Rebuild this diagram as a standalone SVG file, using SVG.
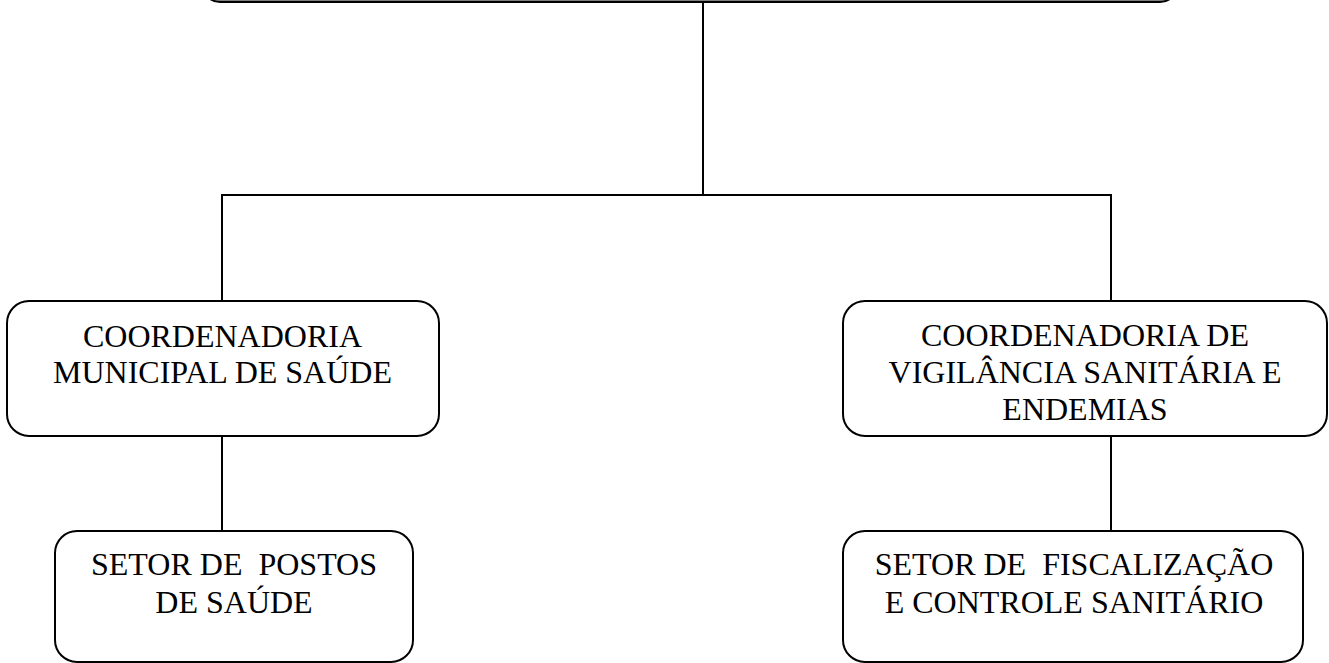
<svg xmlns="http://www.w3.org/2000/svg" width="1329" height="663" viewBox="0 0 1329 663">
<style>
.box{fill:#fff;stroke:#000;stroke-width:2}
.top{fill:#7f7f7f;stroke:#000;stroke-width:2}
.lbl{font-family:"Liberation Serif","Times New Roman",serif;font-size:32px;fill:#000;text-anchor:middle;white-space:pre}
.conn{stroke:#000;stroke-width:2;fill:none}
</style>
<rect width="1329" height="663" fill="#fff"/>
<g id="connectors">
<line class="conn" x1="703" y1="3" x2="703" y2="195"/>
<polyline class="conn" points="222,301 222,195 1111,195 1111,301"/>
<line class="conn" x1="222" y1="436" x2="222" y2="531"/>
<line class="conn" x1="1111" y1="436" x2="1111" y2="531"/>
</g>
<g id="top">
<rect class="top" x="202" y="-40" width="976" height="42" rx="18"/>
</g>
<g id="coord-saude">
<rect class="box" x="7" y="301" width="432" height="135" rx="22"/>
<text class="lbl" x="222.5" y="347">COORDENADORIA</text>
<text class="lbl" x="222.5" y="383">MUNICIPAL DE SAÚDE</text>
</g>
<g id="coord-vigilancia">
<rect class="box" x="843" y="301" width="484" height="135" rx="22"/>
<text class="lbl" x="1085" y="346">COORDENADORIA DE</text>
<text class="lbl" x="1085" y="383">VIGILÂNCIA SANITÁRIA E</text>
<text class="lbl" x="1085" y="420">ENDEMIAS</text>
</g>
<g id="setor-postos">
<rect class="box" x="55" y="531" width="358" height="131" rx="22"/>
<text class="lbl" x="234" y="575">SETOR DE  POSTOS</text>
<text class="lbl" x="234" y="613">DE SAÚDE</text>
</g>
<g id="setor-fiscalizacao">
<rect class="box" x="843" y="531" width="460" height="131" rx="22"/>
<text class="lbl" x="1074" y="575">SETOR DE  FISCALIZAÇÃO</text>
<text class="lbl" x="1074" y="613">E CONTROLE SANITÁRIO</text>
</g>
</svg>
